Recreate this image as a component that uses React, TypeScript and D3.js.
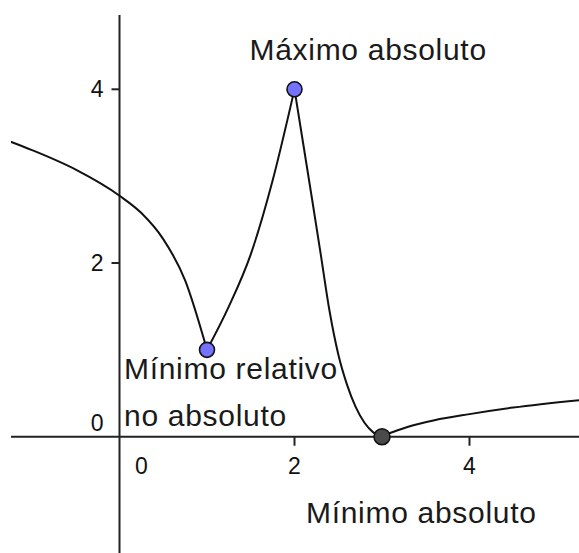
import React from "react";
import * as d3 from "d3";

// Function graph with its extrema marked
const WIDTH = 579;
const HEIGHT = 553;

// Curve pieces between the marked extrema, [x, y] in graph units
const branchLeft: [number, number][] = [
  [-1.36, 3.44], [-1.0, 3.3], [-0.5, 3.075], [0, 2.775], [0.25, 2.575],
  [0.5, 2.275], [0.75, 1.8], [1, 1],
];
const branchRise: [number, number][] = [
  [1, 1], [1.25, 1.5], [1.5, 2.1], [1.75, 2.95], [2, 4],
];
const branchFall: [number, number][] = [
  [2, 4], [2.1, 3.37], [2.2, 2.74], [2.3, 2.1], [2.4, 1.45], [2.5, 0.95],
  [2.6, 0.6], [2.7, 0.34], [2.8, 0.16], [2.9, 0.05], [3, 0],
];
const branchRight: [number, number][] = [
  [3, 0], [3.1, 0.045], [3.3, 0.115], [3.6, 0.19], [4, 0.26], [4.5, 0.335], [5.3, 0.425],
];

const extrema = [
  { x: 1, y: 1, kind: "rel", lines: ["Mínimo relativo", "no absoluto"] },
  { x: 2, y: 4, kind: "max", lines: ["Máximo absoluto"] },
  { x: 3, y: 0, kind: "min", lines: ["Mínimo absoluto"] },
];

const xTicks = [2, 4];
const yTicks = [2, 4];

const FONT = "'Liberation Sans', Arial, sans-serif";

export default function App() {
  const x = d3.scaleLinear().domain([0, 4]).range([119.5, 469.5]);
  const y = d3.scaleLinear().domain([0, 4]).range([436.7, 89.3]);

  const line = d3
    .line<[number, number]>()
    .x((d) => x(d[0]))
    .y((d) => y(d[1]))
    .curve(d3.curveMonotoneX);

  const clipLeft = 11;
  const clipTop = 15;

  // label offsets from each marked point, in pixels
  const labelOffset: Record<string, { dx: number; dy: number }> = {
    rel: { dx: -83, dy: 29 },
    max: { dx: -45, dy: -29 },
    min: { dx: -76, dy: 86 },
  };

  const tickFont = 23;

  return (
    <svg
      width={WIDTH}
      height={HEIGHT}
      style={{ position: "absolute", left: 0, top: 0, background: "#fff" }}
    >
      <defs>
        <clipPath id="view">
          <rect x={clipLeft} y={clipTop} width={WIDTH - clipLeft} height={HEIGHT - clipTop} />
        </clipPath>
      </defs>

      <g clipPath="url(#view)">
        {/* axes */}
        <line x1={clipLeft} x2={WIDTH} y1={y(0)} y2={y(0)} stroke="#222" strokeWidth={2} />
        <line x1={x(0)} x2={x(0)} y1={clipTop} y2={HEIGHT} stroke="#222" strokeWidth={2} />

        {xTicks.map((t) => (
          <g key={"xt" + t}>
            <line x1={x(t)} x2={x(t)} y1={y(0)} y2={y(0) + 9} stroke="#222" strokeWidth={2} />
            <text x={x(t)} y={474} textAnchor="middle" fontFamily={FONT} fontSize={tickFont} fill="#111">
              {t}
            </text>
          </g>
        ))}
        <text x={x(0) + 22} y={474} textAnchor="middle" fontFamily={FONT} fontSize={tickFont} fill="#111">
          0
        </text>

        {yTicks.map((t) => (
          <g key={"yt" + t}>
            <line x1={x(0) - 8} x2={x(0)} y1={y(t)} y2={y(t)} stroke="#222" strokeWidth={2} />
            <text x={x(0) - 16} y={y(t) + 8} textAnchor="end" fontFamily={FONT} fontSize={tickFont} fill="#111">
              {t}
            </text>
          </g>
        ))}
        <text x={x(0) - 16} y={y(0) - 6} textAnchor="end" fontFamily={FONT} fontSize={tickFont} fill="#111">
          0
        </text>

        {/* function graph */}
        {[branchLeft, branchRise, branchFall, branchRight].map((b, i) => (
          <path key={i} d={line(b) ?? ""} fill="none" stroke="#111" strokeWidth={2} />
        ))}

        {/* extrema */}
        {extrema.map((p) => (
          <circle
            key={p.kind}
            cx={x(p.x)}
            cy={y(p.y)}
            r={p.kind === "min" ? 8 : 7.5}
            fill={p.kind === "min" ? "#4a4a4a" : "#7373ff"}
            stroke="#111"
            strokeWidth={1.6}
          />
        ))}

        {extrema.map((p) => {
          const o = labelOffset[p.kind];
          return (
            <text
              key={"l" + p.kind}
              x={x(p.x) + o.dx}
              y={y(p.y) + o.dy}
              fontFamily={FONT}
              fontSize={30}
              letterSpacing={0.7}
              fill="#1a1a1a"
            >
              {p.lines.map((s, i) => (
                <tspan key={i} x={x(p.x) + o.dx} dy={i === 0 ? 0 : 47}>
                  {s}
                </tspan>
              ))}
            </text>
          );
        })}
      </g>
    </svg>
  );
}
